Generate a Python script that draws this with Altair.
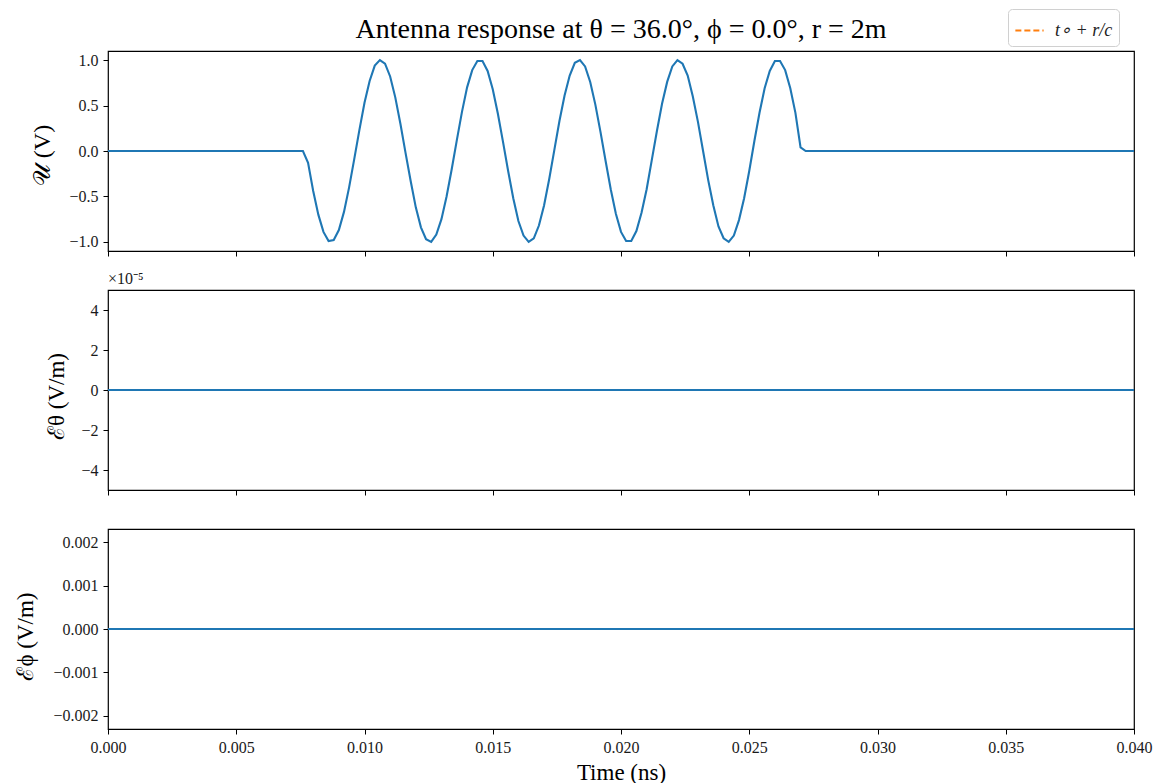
import altair as alt
import pandas as pd

FONT = "Liberation Serif"
BLUE = "#1f77b4"
ORANGE = "#ff7f0e"

pulse_times = [round(0.0078 + 0.0002 * n, 4) for n in range(97)]
pulse_u = [-0.13, -0.44, -0.70, -0.89, -0.99, -0.98, -0.87, -0.67, -0.40, -0.09,
           0.23, 0.53, 0.77, 0.94, 1.00, 0.96, 0.82, 0.59, 0.30, -0.02,
           -0.33, -0.62, -0.84, -0.97, -1.00, -0.92, -0.75, -0.50, -0.20, 0.12,
           0.43, 0.70, 0.89, 0.99, 0.99, 0.88, 0.68, 0.41, 0.10, -0.22,
           -0.52, -0.77, -0.93, -1.00, -0.96, -0.82, -0.60, -0.31, 0.01, 0.33,
           0.61, 0.83, 0.97, 1.00, 0.93, 0.76, 0.51, 0.21, -0.11, -0.42,
           -0.69, -0.89, -0.99, -0.99, -0.88, -0.68, -0.42, -0.10, 0.22, 0.52,
           0.76, 0.93, 1.00, 0.96, 0.83, 0.60, 0.32, 0.00, -0.32, -0.60,
           -0.83, -0.96, -1.00, -0.93, -0.76, -0.52, -0.22, 0.11, 0.42, 0.69,
           0.88, 0.99, 0.99, 0.89, 0.69, 0.42, 0.04]

time_ns = [0.0, 0.0076] + pulse_times + [0.0272, 0.04]
u_volts = [0.0, 0.0] + pulse_u + [0.0, 0.0]
e_theta = [0.0 for _ in time_ns]
e_phi = [0.0 for _ in time_ns]

arrival_label = ["t∘ + r/c"]
arrival_time = [6.67]

x_ticks = [0.0, 0.005, 0.010, 0.015, 0.020, 0.025, 0.030, 0.035, 0.040]
u_ticks = [-1.0, -0.5, 0.0, 0.5, 1.0]
th_ticks = [-4e-5, -2e-5, 0.0, 2e-5, 4e-5]
ph_ticks = [-0.002, -0.001, 0.0, 0.001, 0.002]

df = pd.DataFrame({"t": time_ns, "u": u_volts, "eth": e_theta, "eph": e_phi})
df_arr = pd.DataFrame({"t": arrival_time, "label": arrival_label})

W, H = 1026, 200
xscale = alt.Scale(domain=[0, 0.04], nice=False, zero=False)
LAB = dict(labelFont=FONT, labelFontSize=16, labelColor="#1a1a1a", labelFlush=False,
           tickSize=5, tickColor="black", labelPadding=5)


def xenc(show_labels, title=None):
    kw = dict(values=x_ticks, format=".3f", labels=show_labels, **LAB)
    if title is not None:
        kw.update(title=title, titleFont=FONT, titleFontSize=23, titleFontWeight="normal",
                  titleColor="black", titleY=43, titleBaseline="middle")
    else:
        kw["title"] = None
    return alt.X("t:Q", scale=xscale, axis=alt.Axis(**kw))


def yaxis(title, tx, ty, size, **extra):
    return alt.Axis(title=title, titleFont=FONT, titleFontSize=size, titleFontWeight="normal",
                    titleColor="black", titleX=tx, titleY=ty, titleBaseline="middle",
                    titleAlign="center", titleAngle=-90, **LAB, **extra)


line1 = alt.Chart(df).mark_line(color=BLUE, strokeWidth=2.1, clip=True).encode(
    x=xenc(False),
    y=alt.Y("u:Q", scale=alt.Scale(domain=[-1.1, 1.1], nice=False, zero=False),
            axis=yaxis("𝒰 (V)", -66, 104, 24, values=u_ticks, format=".1f")),
)
rule1 = alt.Chart(df_arr).mark_rule(strokeDash=[5, 3], strokeWidth=2, clip=True).encode(
    x=alt.X("t:Q", scale=xscale),
    color=alt.Color("label:N", scale=alt.Scale(domain=arrival_label, range=[ORANGE]),
                    legend=alt.Legend(title=None, orient="none", legendX=900, legendY=-42,
                                      symbolType="stroke", symbolDash=[6, 3],
                                      symbolStrokeWidth=2, symbolSize=800,
                                      labelFont=FONT, labelFontSize=18, labelFontStyle="italic",
                                      labelColor="#222222", labelOffset=10,
                                      strokeColor="#d0d0d0", fillColor="white",
                                      padding=6, cornerRadius=4)),
)
top = alt.layer(line1, rule1).properties(
    width=W, height=H,
    title=alt.TitleParams("Antenna response at θ = 36.0°, ϕ = 0.0°, r = 2m",
                          font=FONT, fontSize=28, fontWeight="normal", color="black",
                          anchor="middle", frame="group", offset=7),
)

mid = alt.Chart(df).mark_line(color=BLUE, strokeWidth=2.1, clip=True).encode(
    x=xenc(False),
    y=alt.Y("eth:Q", scale=alt.Scale(domain=[-5e-5, 5e-5], nice=False, zero=False),
            axis=yaxis("ℰθ (V/m)", -52, 106, 23, values=th_ticks,
                       labelExpr="format(datum.value*1e5, 'd')")),
).properties(
    width=W, height=H,
    title=alt.TitleParams("×10⁻⁵", font=FONT, fontSize=16, fontWeight="normal", color="#1a1a1a",
                          anchor="start", frame="group", offset=3),
)

bot = alt.Chart(df).mark_line(color=BLUE, strokeWidth=2.1, clip=True).encode(
    x=xenc(True, "Time (ns)"),
    y=alt.Y("eph:Q", scale=alt.Scale(domain=[-0.0023, 0.0023], nice=False, zero=False),
            axis=yaxis("ℰϕ (V/m)", -83, 107, 23, values=ph_ticks, format=".3f")),
).properties(width=W, height=H)

chart = alt.vconcat(top, mid, bot, spacing=39, bounds="flush").properties(
    padding={"left": 13, "top": 8, "right": 0, "bottom": 3},
).configure_view(
    stroke="black", strokeWidth=1.2
).configure_axis(
    grid=False, domain=False,
)

chart.save("out.html", embed_options={"renderer": "svg", "actions": False})
